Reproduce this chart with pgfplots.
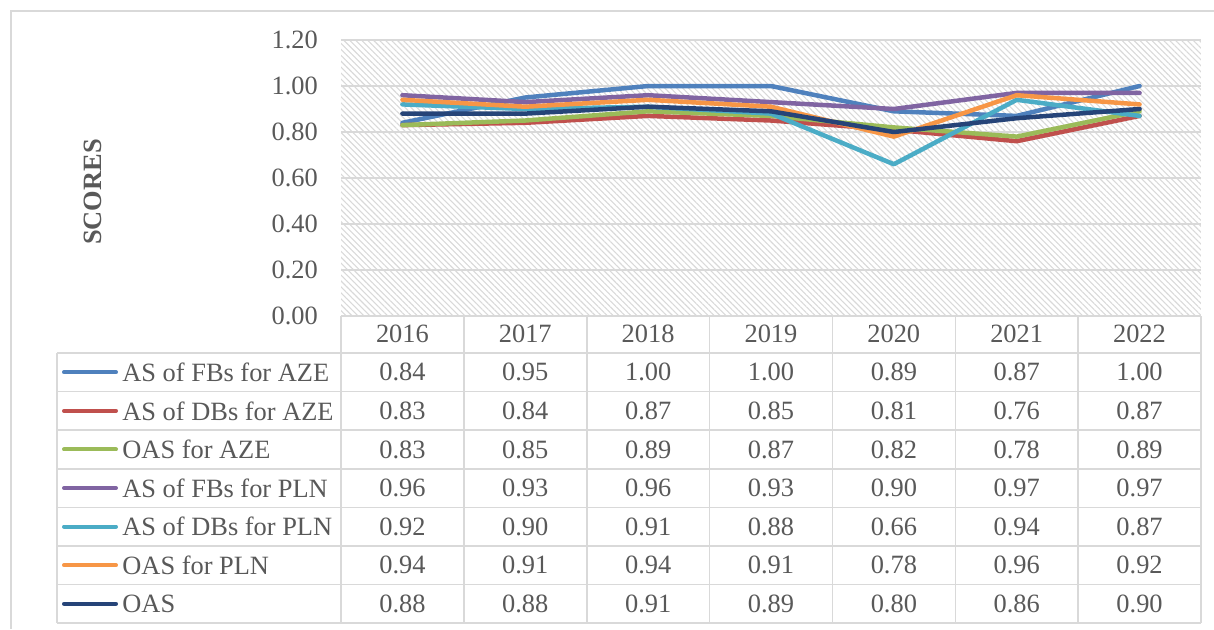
\documentclass[border=0pt]{standalone}
\usepackage{fontspec}
\setmainfont{Liberation Serif}
\usepackage{xcolor}
\usepackage{pgfplots}
\pgfplotsset{compat=1.18}
\usepackage{pgfplotstable}
\usetikzlibrary{patterns.meta}

\definecolor{txt}{HTML}{595959}
\definecolor{gridc}{HTML}{D9D9D9}
\definecolor{cA}{HTML}{4F81BD}
\definecolor{cB}{HTML}{C0504D}
\definecolor{cC}{HTML}{9BBB59}
\definecolor{cD}{HTML}{8064A2}
\definecolor{cE}{HTML}{4BACC6}
\definecolor{cF}{HTML}{F79646}
\definecolor{cG}{HTML}{264478}

% scores per year
\pgfplotstableread{
year AFA  ADA  OAA  AFP  ADP  OAP  OAS
2016 0.84 0.83 0.83 0.96 0.92 0.94 0.88
2017 0.95 0.84 0.85 0.93 0.90 0.91 0.88
2018 1.00 0.87 0.89 0.96 0.91 0.94 0.91
2019 1.00 0.85 0.87 0.93 0.88 0.91 0.89
2020 0.89 0.81 0.82 0.90 0.66 0.78 0.80
2021 0.87 0.76 0.78 0.97 0.94 0.96 0.86
2022 1.00 0.87 0.89 0.97 0.87 0.92 0.90
}\scores

\begin{document}
\fontsize{13.2}{15}\selectfont
\begin{tikzpicture}[font=\fontsize{13.2}{15}\selectfont, text=txt]
  % layout in image pixels (0.5pt each, y downwards)
  \begin{scope}[x=0.5pt, y=-0.5pt]
    \coordinate (pa) at (341,316);
  \end{scope}

  \begin{axis}[
      at={(pa)}, anchor=south west,
      scale only axis,
      width=430pt, height=138pt,
      xmin=2015.5, xmax=2022.5,
      ymin=0, ymax=1.2,
      xtick={2016,...,2022},
      xticklabels={2016,2017,2018,2019,2020,2021,2022},
      ytick={0,0.2,0.4,0.6,0.8,1.0,1.2},
      xticklabel style={anchor=center, yshift=-9pt, text=txt},
      yticklabel style={/pgf/number format/fixed, /pgf/number format/fixed zerofill,
                        /pgf/number format/precision=2, xshift=-7pt, text=txt},
      /pgf/number format/assume math mode=true,
      axis line style={draw=none},
      major tick length=0pt,
      ymajorgrids=true,
      major grid style={gridc, line width=1pt},
      axis background/.style={pattern={Lines[angle=-45, distance=2.1pt, line width=0.55pt]},
                              pattern color=black!15},
      every axis plot/.append style={line width=2.25pt, line join=round, line cap=round},
    ]
    \addplot[cA] table[x=year, y=AFA] {\scores};
    \addplot[cB] table[x=year, y=ADA] {\scores};
    \addplot[cC] table[x=year, y=OAA] {\scores};
    \addplot[cD] table[x=year, y=AFP] {\scores};
    \addplot[cE] table[x=year, y=ADP] {\scores};
    \addplot[cF] table[x=year, y=OAP] {\scores};
    \addplot[cG] table[x=year, y=OAS] {\scores};
  \end{axis}

  \begin{scope}[x=0.5pt, y=-0.5pt]
    % chart area border
    \draw[gridc, line width=1pt] (1214,10.5) -- (11,10.5) -- (11,629);
    \node[rotate=90, font=\fontsize{13.2}{15}\selectfont\bfseries] at (93,192) {SCORES};

    % data table grid
    \begin{scope}[gridc, line width=0.8pt]
      \draw (341,316) -- (1201,316);
      \foreach \r in {0,...,7}
        \draw (57,{353+\r*38.571}) -- (1201,{353+\r*38.571});
      \draw (57,353) -- (57,623);
      \foreach \k in {0,...,7}
        \draw ({341+\k*122.857},316) -- ({341+\k*122.857},623);
    \end{scope}

    % legend keys, names and values
    \foreach \col/\clr/\name [count=\i from 0] in {
        AFA/cA/AS of FBs for AZE, ADA/cB/AS of DBs for AZE, OAA/cC/OAS for AZE,
        AFP/cD/AS of FBs for PLN, ADP/cE/AS of DBs for PLN, OAP/cF/OAS for PLN,
        OAS/cG/OAS} {
      \draw[\clr, line width=2pt, line cap=round] (64,{353+(\i+0.5)*38.571}) -- (116,{353+(\i+0.5)*38.571});
      \node[anchor=west, inner sep=0pt] at (122,{353+(\i+0.5)*38.571}) {\name};
      \foreach \r in {0,...,6} {
        \pgfplotstablegetelem{\r}{\col}\of\scores
        \node at ({341+(\r+0.5)*122.857},{353+(\i+0.5)*38.571})
          {\pgfmathprintnumber[fixed, fixed zerofill, precision=2, assume math mode=true]{\pgfplotsretval}};
      }
    }

    \pgfresetboundingbox
    \path[use as bounding box] (0,0) rectangle (1214,629);
  \end{scope}
\end{tikzpicture}
\end{document}
